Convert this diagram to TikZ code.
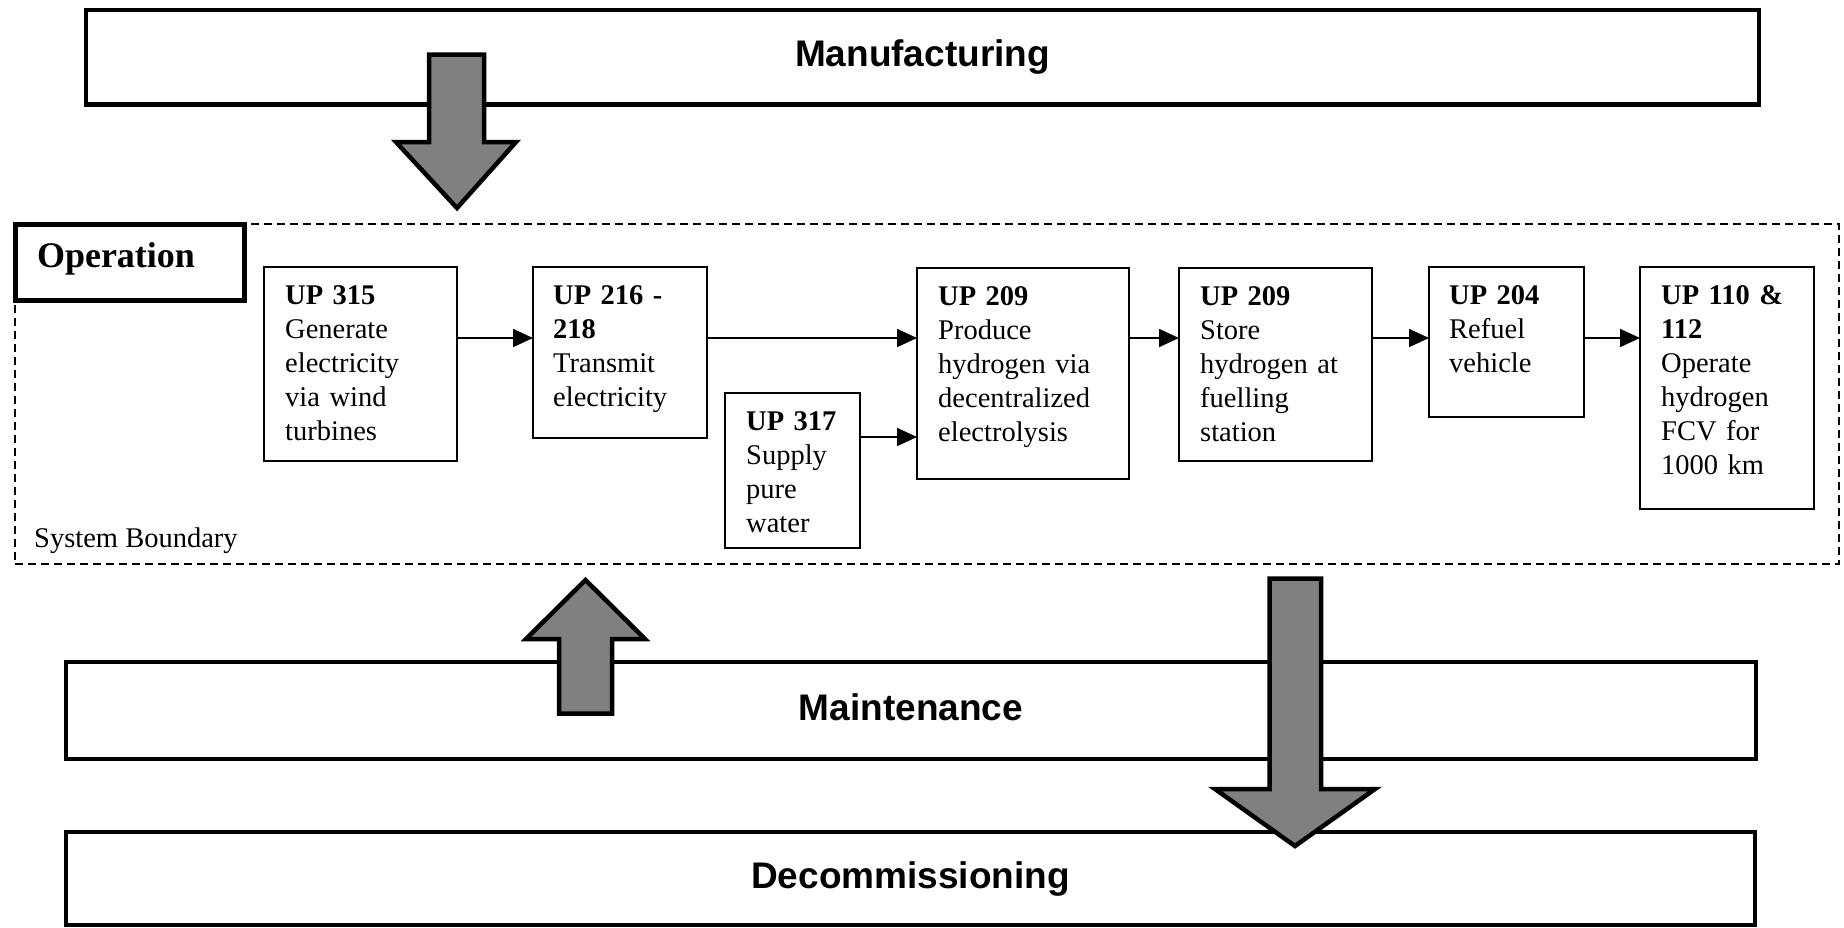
\documentclass[tikz,border=0pt]{standalone}
\usepackage{fontspec}
\setmainfont{Liberation Serif}
\newfontfamily\lsans{Liberation Sans}
\usetikzlibrary{arrows.meta}
\definecolor{arrowgray}{HTML}{808080}
\begin{document}
\begin{tikzpicture}[x=1pt,y=-1pt,
  phase/.style={draw, line width=4.5pt, fill=white, inner sep=0pt, outer sep=0pt,
    font=\lsans\bfseries\fontsize{37}{40}\selectfont, text height=27pt, text depth=8pt},
  upbox/.style={draw, line width=1.8pt, fill=white, inner sep=0pt, outer sep=0pt},
  uptext/.style={anchor=base west, inner sep=0pt, text width=200pt, align=left,
    font=\fontsize{28.5}{34}\selectfont},
  flow/.style={line width=1.7pt, -{Triangle[length=20pt,width=18pt]}},
  blockarrow/.style={draw, line width=4.5pt, fill=arrowgray, line join=miter},
  bound/.style={draw, line width=1.6pt, dash pattern=on 8pt off 5pt, inner sep=0pt, outer sep=0pt},
  opbox/.style={draw, line width=5pt, fill=white, inner ysep=0pt, outer sep=0pt,
    font=\bfseries\fontsize{36}{40}\selectfont}
]
\fill[white] (0,0) rectangle (1844,927);
\useasboundingbox (0,0) rectangle (1844,927);

% life-cycle phases
\node[phase, minimum width=1673pt, minimum height=94.5pt] (manu) at (922.5,57.25) {Manufacturing};
\node[phase, minimum width=1690pt, minimum height=97pt] (maint) at (911,710.5) {Maintenance};
\node[phase, minimum width=1689pt, minimum height=93pt] (decom) at (910.5,878.5) {Decommissioning};

% system boundary
\node[bound, minimum width=1824pt, minimum height=340pt] (boundary) at (927,394) {};
\node[anchor=base west, inner sep=0pt, font=\fontsize{28.5}{34}\selectfont] (sb) at (34,547) {System Boundary};

% unit processes
\node[upbox, minimum width=193pt, minimum height=194pt] (a) at (360.5,364) {};
\node[upbox, minimum width=174pt, minimum height=171pt] (b) at (620,352.5) {};
\node[upbox, minimum width=135pt, minimum height=155pt] (w) at (792.5,470.5) {};
\node[upbox, minimum width=212pt, minimum height=211pt] (c) at (1023,373.5) {};
\node[upbox, minimum width=193pt, minimum height=193pt] (d) at (1275.5,364.5) {};
\node[upbox, minimum width=155pt, minimum height=150pt] (e) at (1506.5,342) {};
\node[upbox, minimum width=174pt, minimum height=242pt] (f) at (1727,388) {};

\node[uptext] (a-t) at ([shift={(21pt,-37pt)}]a.north west)
  {\textbf{UP 315}\\Generate\\electricity\\via wind\\turbines};
\node[uptext] (b-t) at ([shift={(20pt,-37pt)}]b.north west)
  {\textbf{UP 216 -}\\\textbf{218}\\Transmit\\electricity};
\node[uptext] (w-t) at ([shift={(21pt,-37pt)}]w.north west)
  {\textbf{UP 317}\\Supply\\pure\\water};
\node[uptext] (c-t) at ([shift={(21pt,-37pt)}]c.north west)
  {\textbf{UP 209}\\Produce\\hydrogen via\\decentralized\\electrolysis};
\node[uptext] (d-t) at ([shift={(21pt,-37pt)}]d.north west)
  {\textbf{UP 209}\\Store\\hydrogen at\\fuelling\\station};
\node[uptext] (e-t) at ([shift={(20pt,-37pt)}]e.north west)
  {\textbf{UP 204}\\Refuel\\vehicle};
\node[uptext] (f-t) at ([shift={(21pt,-37pt)}]f.north west)
  {\textbf{UP 110 \&}\\\textbf{112}\\Operate\\hydrogen\\FCV for\\1000 km};

% flow levels
\coordinate (mainrow) at (0,338);
\coordinate (waterrow) at (0,437);

\draw[flow] (a.east |- mainrow) -- (b.west |- mainrow);
\draw[flow] (b.east |- mainrow) -- (c.west |- mainrow);
\draw[flow] (w.east |- waterrow) -- (c.west |- waterrow);
\draw[flow] (c.east |- mainrow) -- (d.west |- mainrow);
\draw[flow] (d.east |- mainrow) -- (e.west |- mainrow);
\draw[flow] (e.east |- mainrow) -- (f.west |- mainrow);

% operation tab
\node[opbox, minimum width=229pt, minimum height=76pt, text width=186pt, align=left,
  inner xsep=21.5pt, text height=24pt, text depth=14pt] (op) at (130,262) {Operation};

% block arrows between phases
\draw[blockarrow] (429,54.5) -- (484,54.5) -- (484,142) -- (516,142) -- (457,208)
  -- (396,142) -- (429,142) -- cycle;
\draw[blockarrow] (559,713.5) -- (612,713.5) -- (612,639) -- (645,639) -- (585.5,580)
  -- (526,639) -- (559,639) -- cycle;
\draw[blockarrow] (1269.5,578.7) -- (1321,578.7) -- (1321,789) -- (1375,789) -- (1295,846)
  -- (1215,789) -- (1269.5,789) -- cycle;
\end{tikzpicture}
\end{document}
